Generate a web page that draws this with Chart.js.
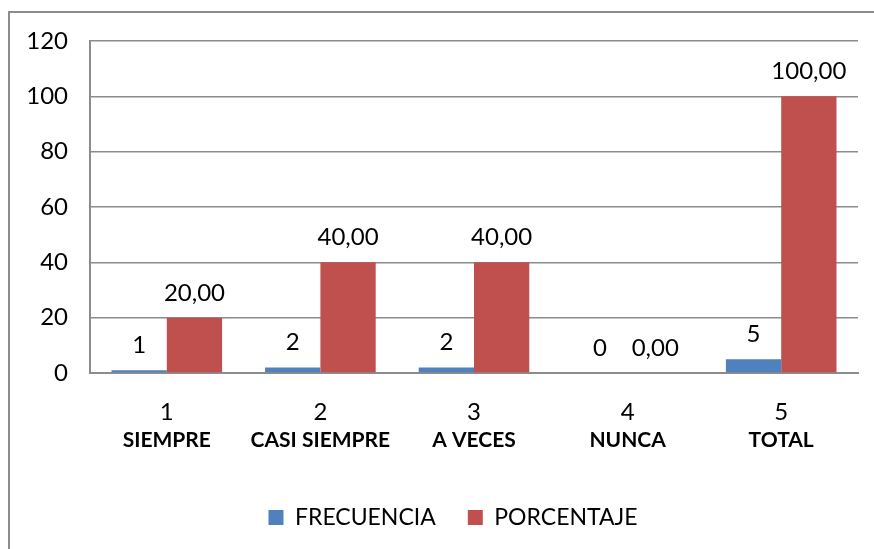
<!DOCTYPE html>
<html>
<head>
<meta charset="utf-8">
<script src="https://cdn.jsdelivr.net/npm/chart.js@4.4.0/dist/chart.umd.min.js"></script>
<style>
  html, body { margin: 0; padding: 0; background: #fff; }
  #wrap { position: relative; width: 874px; height: 549px; overflow: hidden; }
  #frame { position: absolute; left: 8px; top: 11px; width: 900px; height: 600px;
           border-left: 2px solid #8c8c8c; border-top: 2px solid #8c8c8c; }
  canvas { position: absolute; left: 0; top: 0; }
</style>
</head>
<body>
<div id="wrap">
  <div id="frame"></div>
  <canvas id="chart" width="874" height="549"></canvas>
</div>
<script>
// Chart data
const numbers = ['1', '2', '3', '4', '5'];
const categories = ['SIEMPRE', 'CASI SIEMPRE', 'A VECES', 'NUNCA', 'TOTAL'];
const frecuencia = [1, 2, 2, 0, 5];
const porcentaje = [20, 40, 40, 0, 100];
const yTicks = [0, 20, 40, 60, 80, 100, 120];

const FONT = 'Lato, "Open Sans", sans-serif';

// Draws the value above each bar
const valueLabels = {
    id: 'valueLabels',
    afterDatasetsDraw(chart) {
        const ctx = chart.ctx;
        ctx.save();
        ctx.font = '24px ' + FONT;
        ctx.fillStyle = '#000';
        ctx.textAlign = 'center';
        ctx.textBaseline = 'alphabetic';
        chart.data.datasets.forEach((ds, i) => {
            const meta = chart.getDatasetMeta(i);
            meta.data.forEach((bar, j) => {
                const v = ds.data[j];
                const txt = i === 0 ? String(v) : v.toFixed(2).replace('.', ',');
                ctx.fillText(txt, bar.x, bar.y - 17);
            });
        });
        ctx.restore();
    }
};

// legend sits a bit right of the canvas centre in the original
const legendShift = {
    id: 'legendShift',
    afterLayout(chart) {
        chart.legend.left += 24;
        chart.legend.right += 24;
    }
};

new Chart(document.getElementById('chart'), {
    type: 'bar',
    data: {
        labels: numbers,
        datasets: [
            {
                label: 'FRECUENCIA',
                data: frecuencia,
                backgroundColor: '#4F81BD',
                categoryPercentage: 0.72,
                barPercentage: 1
            },
            {
                label: 'PORCENTAJE',
                data: porcentaje,
                backgroundColor: '#C0504D',
                categoryPercentage: 0.72,
                barPercentage: 1
            }
        ]
    },
    options: {
        responsive: false,
        animation: false,
        layout: { padding: { left: 0, right: 16, top: 41, bottom: 10 } },
        plugins: {
            legend: {
                position: 'bottom',
                labels: {
                    boxWidth: 15,
                    boxHeight: 15,
                    padding: 32,
                    color: '#000',
                    font: { family: FONT, size: 23 }
                }
            },
            tooltip: { enabled: false }
        },
        scales: {
            x: {
                afterFit(scale) { scale.height = 47; },
                grid: { display: false },
                border: { display: true, color: '#8c8c8c', width: 2 },
                ticks: { color: '#000', padding: 17, font: { family: FONT, size: 24 } }
            },
            names: {
                type: 'category',
                labels: categories,
                position: 'bottom',
                weight: 1,
                offset: true,
                afterFit(scale) { scale.height = 54; },
                grid: { display: false },
                border: { display: false },
                ticks: { color: '#000', padding: 0, font: { family: FONT, size: 21, weight: 'bold' } }
            },
            y: {
                min: 0,
                max: 120,
                afterBuildTicks(scale) {
                    scale.ticks = yTicks.map(v => ({ value: v }));
                },
                afterFit(scale) { scale.width = 90; },
                grid: { color: '#8c8c8c', lineWidth: 1.5, drawTicks: false },
                border: { display: true, color: '#8c8c8c', width: 2 },
                ticks: { color: '#000', padding: 22, font: { family: FONT, size: 24 } }
            }
        }
    },
    plugins: [valueLabels, legendShift]
});
</script>
</body>
</html>
